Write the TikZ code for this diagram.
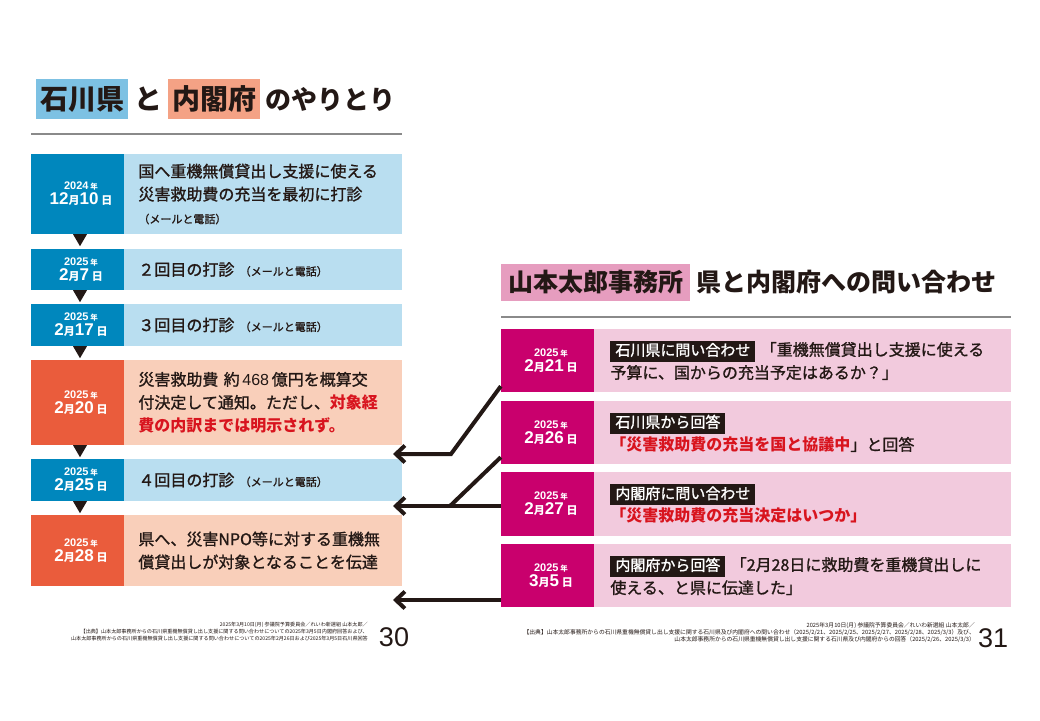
\documentclass[tikz,border=0pt]{standalone}
\usepackage{fontspec}
\setmainfont{Noto Sans CJK JP}
\newfontfamily\medfont{Noto Sans CJK JP}[FakeBold=1.2]
\newfontfamily\numfont{Liberation Sans}
\usetikzlibrary{positioning, arrows.meta}

\definecolor{dark}{HTML}{231815}
\definecolor{dateblue}{HTML}{0087BD}
\definecolor{lblue}{HTML}{B9DEF0}
\definecolor{dateorange}{HTML}{EA5C3C}
\definecolor{lsalmon}{HTML}{F9CFBA}
\definecolor{datemag}{HTML}{C9006D}
\definecolor{lpink}{HTML}{F2CADD}
\definecolor{tblue}{HTML}{7DC1E3}
\definecolor{tsalmon}{HTML}{F4A285}
\definecolor{tpink}{HTML}{E69DBF}
\definecolor{redtxt}{HTML}{D8141E}
\definecolor{rulegrey}{HTML}{8A8A8A}

\newcommand{\datelbl}[3]{\hspace*{7pt}{\fontsize{11}{11}\selectfont\numfont #1\,{\rmfamily\fontsize{7.5}{8}\selectfont 年}}\\\hspace*{7pt}{\fontsize{17}{17}\selectfont\numfont #2{\rmfamily\fontsize{11}{11}\selectfont 月}#3\,{\rmfamily\fontsize{11}{11}\selectfont 日}}}
\newcommand{\smallnote}[1]{{\fontsize{11}{11}\selectfont #1}}
\newcommand{\redpart}[1]{{\color{redtxt}\rmfamily\bfseries #1}}
\newcommand{\asklbl}[1]{{\setlength{\fboxsep}{2pt}\colorbox{dark}{\hspace{3pt}\color{white}\fontsize{15}{15}\selectfont\strut #1\hspace{3pt}}}}

\begin{document}
\begin{tikzpicture}[x=1pt, y=-1pt,
  hl/.style={inner xsep=4pt, inner ysep=0pt, minimum height=40pt, text=dark, font=\bfseries\fontsize{28}{28}\selectfont},
  hlr/.style={inner xsep=7pt, inner ysep=0pt, minimum height=37pt, text=dark, font=\bfseries\fontsize{25}{25}\selectfont},
  datecol/.style={minimum width=93pt, inner sep=0pt, align=center, text=white, font=\bfseries\fontsize{11}{15}\selectfont},
  txtcol/.style={inner xsep=14pt, inner ysep=0pt, text width=250pt, align=left, text=dark, font=\medfont\fontsize{16}{23}\selectfont},
  asktxt/.style={inner xsep=16pt, inner ysep=0pt, text width=385pt, align=left, text=dark, font=\medfont\fontsize{16}{23}\selectfont},
  rule/.style={draw=rulegrey, line width=1.5pt},
  conn/.style={draw=dark, line width=4pt},
  foot/.style={align=right, inner sep=0pt, text=dark},
  page/.style={inner sep=0pt, text=dark, font=\numfont\fontsize{27}{27}\selectfont}]

\useasboundingbox[fill=white] (0,0) rectangle (1040,720);

% left title
\node[hl, fill=tblue, anchor=west] (ti1) at (36,99) {石川県};
\node[hl, right=6pt of ti1, inner xsep=0pt] (ti2) {と};
\node[hl, fill=tsalmon, right=5pt of ti2] (ti3) {内閣府};
\node[hl, right=5pt of ti3, inner xsep=0pt, font=\bfseries\fontsize{26}{26}\selectfont] (ti4) {のやりとり};
\draw[rule] (31,134) -- (402,134);

% left timeline
\node[datecol, fill=dateblue, minimum height=80pt] (d1) at (77.5,194) {\datelbl{2024}{12}{10}};
\node[txtcol, fill=lblue, minimum height=80pt, right=0pt of d1] (t1) {国へ重機無償貸出し支援に使える\\災害救助費の充当を最初に打診\\\smallnote{（メールと電話）}};

\node[datecol, fill=dateblue, minimum height=41pt] (d2) at (77.5,269.5) {\datelbl{2025}{2}{7}};
\node[txtcol, fill=lblue, minimum height=41pt, right=0pt of d2] (t2) {２回目の打診 \smallnote{（メールと電話）}};

\node[datecol, fill=dateblue, minimum height=42pt] (d3) at (77.5,325) {\datelbl{2025}{2}{17}};
\node[txtcol, fill=lblue, minimum height=42pt, right=0pt of d3] (t3) {３回目の打診 \smallnote{（メールと電話）}};

\node[datecol, fill=dateorange, minimum height=85pt] (d4) at (77.5,402.5) {\datelbl{2025}{2}{20}};
\node[txtcol, fill=lsalmon, minimum height=85pt, right=0pt of d4] (t4) {災害救助費\ 約{\numfont\,468\,}億円を概算交\\付決定して通知。ただし、\redpart{対象経}\\\redpart{費の内訳までは明示されず。}};

\node[datecol, fill=dateblue, minimum height=42pt] (d5) at (77.5,480) {\datelbl{2025}{2}{25}};
\node[txtcol, fill=lblue, minimum height=42pt, right=0pt of d5] (t5) {４回目の打診 \smallnote{（メールと電話）}};

\node[datecol, fill=dateorange, minimum height=71pt] (d6) at (77.5,550.5) {\datelbl{2025}{2}{28}};
\node[txtcol, fill=lsalmon, minimum height=71pt, right=0pt of d6] (t6) {県へ、災害NPO等に対する重機無\\償貸出しが対象となることを伝達};

\foreach \a in {d1,d2,d3,d4,d5}
  \fill[dark] ([xshift=2.5pt]\a.south) ++(-7,0) -- ++(14,0) -- ++(-7,12) -- cycle;

% right title
\node[hlr, fill=tpink, anchor=west] (tr1) at (501,282.5) {山本太郎事務所};
\node[hlr, right=6pt of tr1, inner xsep=0pt] (tr2) {県と内閣府への問い合わせ};
\draw[rule] (501,317) -- (1011,317);

% right inquiries
\node[datecol, fill=datemag, minimum height=63pt] (rd1) at (547.5,360.5) {\datelbl{2025}{2}{21}};
\node[asktxt, fill=lpink, minimum height=63pt, right=0pt of rd1] (rt1) {\asklbl{石川県に問い合わせ}\ 「重機無償貸出し支援に使える\\予算に、国からの充当予定はあるか？」};

\node[datecol, fill=datemag, minimum height=63pt] (rd2) at (547.5,432.5) {\datelbl{2025}{2}{26}};
\node[asktxt, fill=lpink, minimum height=63pt, right=0pt of rd2] (rt2) {\asklbl{石川県から回答}\\\redpart{「災害救助費の充当を国と協議中}」と回答};

\node[datecol, fill=datemag, minimum height=64pt] (rd3) at (547.5,504) {\datelbl{2025}{2}{27}};
\node[asktxt, fill=lpink, minimum height=64pt, right=0pt of rd3] (rt3) {\asklbl{内閣府に問い合わせ}\\\redpart{「災害救助費の充当決定はいつか」}};

\node[datecol, fill=datemag, minimum height=63pt] (rd4) at (547.5,575.5) {\datelbl{2025}{3}{5}};
\node[asktxt, fill=lpink, minimum height=63pt, right=0pt of rd4] (rt4) {\asklbl{内閣府から回答}\ 「2月28日に救助費を重機貸出しに\\使える、と県に伝達した」};

% connectors
\coordinate (a1) at (393,454);
\coordinate (a2) at (393,506);
\coordinate (a3) at (393,600);
\draw[conn, -{Straight Barb[length=9pt, width=17pt]}] ([yshift=6pt]rd1.south west) -- (451,454) -- (a1);
\draw[conn] ([yshift=7pt]rd2.south west) -- (450,506);
\draw[conn, -{Straight Barb[length=9pt, width=17pt]}] (rd3.west |- a2) -- (a2);
\draw[conn, -{Straight Barb[length=9pt, width=17pt]}] (rd4.west |- a3) -- (a3);

% sources and page numbers
\node[foot, anchor=north east, font=\fontsize{5.1}{7}\selectfont] (f1) at (368,622) {2025年3月10日(月) 参議院予算委員会／れいわ新選組 山本太郎／\\【出典】山本太郎事務所からの石川県重機無償貸し出し支援に関する問い合わせについての2025年3月5日内閣府回答および、\\山本太郎事務所からの石川県重機無償貸し出し支援に関する問い合わせについての2025年2月26日および2025年3月5日石川県回答};
\node[page] (p1) at (394,637) {30};

\node[foot, anchor=north east, font=\fontsize{5.8}{7}\selectfont] (f2) at (975,622) {2025年3月10日(月) 参議院予算委員会／れいわ新選組 山本太郎／\\【出典】山本太郎事務所からの石川県重機無償貸し出し支援に関する石川県及び内閣府への問い合わせ（2025/2/21、2025/2/25、2025/2/27、2025/2/28、2025/3/3）及び、\\山本太郎事務所からの石川県重機無償貸し出し支援に関する石川県及び内閣府からの回答（2025/2/26、2025/3/3）};
\node[page] (p2) at (993,638) {31};

\end{tikzpicture}
\end{document}
